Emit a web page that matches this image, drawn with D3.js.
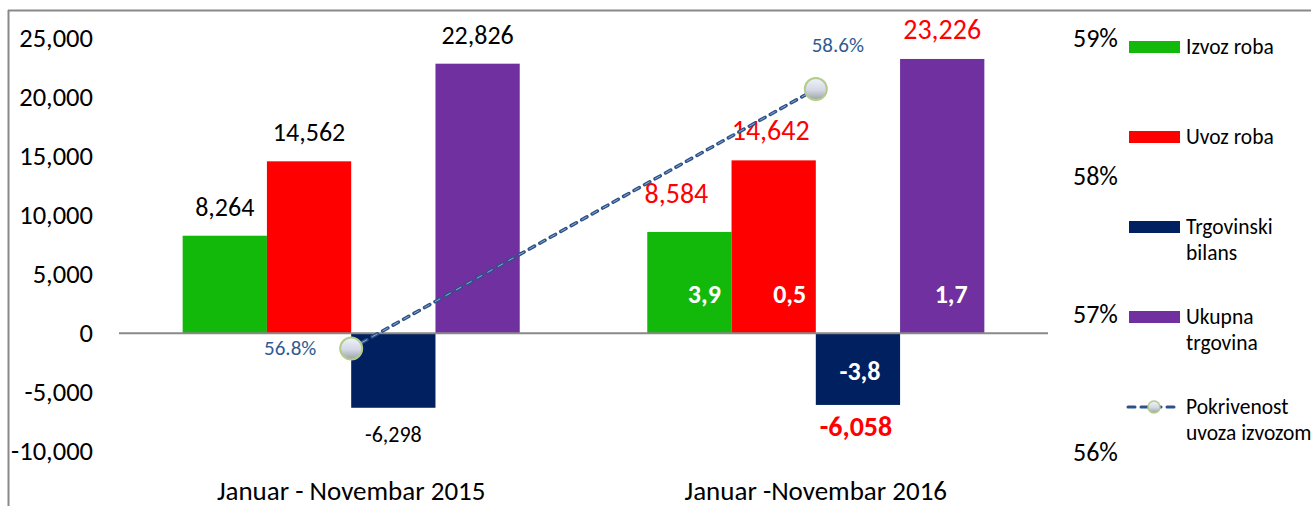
<!DOCTYPE html>
<html>
<head>
 <meta charset="UTF-8">
 <title>Robna razmjena</title>
 <script src="https://d3js.org/d3.v7.min.js"></script>
 <style>
  body { margin: 0; background: #fff; }
  text { font-family: Calibri, Carlito, "Open Sans", sans-serif; }
 </style>
</head>
<body>
<script type="text/javascript">
// podaci
var categories = ["Januar - Novembar 2015", "Januar -Novembar 2016"];
var seriesNames = ["Izvoz roba", "Uvoz roba", "Trgovinski bilans", "Ukupna trgovina"];
var izvoz = [8264, 8584];
var uvoz = [14562, 14642];
var bilans = [-6298, -6058];
var ukupno = [22826, 23226];
var pokrivenost = [56.75, 58.63];
var pokrivenostLabels = ["56.8%", "58.6%"];
var rast2016 = ["3,9", "0,5", "-3,8", "1,7"];
var leftTicks = [-10000, -5000, 0, 5000, 10000, 15000, 20000, 25000];
var rightTicks = [56, 57, 58, 59];
var colors = ["#12b90b", "#ff0000", "#002060", "#7030a0"];
var lineColor = "#2c5289";

var fmt = function (v) { return d3.format(",")(v).replace("\u2212", "-"); };

var width = 1311, height = 506;
var svg = d3.select("body").append("svg")
    .attr("width", width)
    .attr("height", height);

var defs = svg.append("defs");
var grad = defs.append("linearGradient").attr("id", "dot")
    .attr("x1", 0).attr("y1", 0).attr("x2", 0).attr("y2", 1);
grad.append("stop").attr("offset", "0%").attr("stop-color", "#f0f3fa");
grad.append("stop").attr("offset", "55%").attr("stop-color", "#d3d8e4");
grad.append("stop").attr("offset", "100%").attr("stop-color", "#9c9fa6");

// okvir
svg.append("line").attr("x1", 8).attr("x2", width).attr("y1", 10.5).attr("y2", 10.5)
    .attr("stroke", "#898989").attr("stroke-width", 2);
svg.append("line").attr("x1", 8.5).attr("x2", 8.5).attr("y1", 10).attr("y2", height)
    .attr("stroke", "#898989").attr("stroke-width", 2);

var y = d3.scaleLinear().domain([-10000, 25000]).range([451.5, 38]);
var yR = d3.scaleLinear().domain([56, 59]).range([452, 38]);
var x0 = d3.scaleBand().domain(categories).range([119, 1048])
    .paddingInner(0.2745).paddingOuter(0.137);
var x1 = d3.scaleBand().domain(seriesNames).range([0, x0.bandwidth()]);

var table = categories.map(function (c, i) {
  return [izvoz[i], uvoz[i], bilans[i], ukupno[i]].map(function (v, j) {
    return { cat: c, ci: i, name: seriesNames[j], si: j, value: v };
  });
});

// osa lijevo
var axL = svg.append("g").attr("transform", "translate(96,0)")
    .call(d3.axisLeft(y).tickValues(leftTicks).tickSize(0).tickPadding(3).tickFormat(fmt));
axL.select(".domain").remove();
axL.selectAll("text").attr("font-size", 26.5).attr("fill", "#000")
    .style("font-family", 'Calibri, Carlito, "Open Sans", sans-serif');

// osa desno
var axR = svg.append("g").attr("transform", "translate(1070,0)")
    .call(d3.axisRight(yR).tickValues(rightTicks).tickSize(0).tickPadding(3).tickFormat(function (d) { return d + "%"; }));
axR.select(".domain").remove();
axR.selectAll("text").attr("font-size", 26).attr("fill", "#000")
    .style("font-family", 'Calibri, Carlito, "Open Sans", sans-serif');

// stubici
var groups = svg.selectAll("g.grp")
    .data(table)
    .enter()
    .append("g")
    .attr("class", "grp")
    .attr("transform", function (d, i) { return "translate(" + x0(categories[i]) + ",0)"; });

groups.selectAll("rect")
    .data(function (d) { return d; })
    .enter()
    .append("rect")
    .attr("x", function (d) { return x1(d.name); })
    .attr("width", x1.bandwidth())
    .attr("y", function (d) { return y(Math.max(0, d.value)); })
    .attr("height", function (d) { return Math.abs(y(d.value) - y(0)); })
    .attr("fill", function (d) { return colors[d.si]; });

// nulta linija
svg.append("line").attr("x1", 119).attr("x2", 1048).attr("y1", y(0)).attr("y2", y(0))
    .attr("stroke", "#898989").attr("stroke-width", 2);

// vrijednosti
var nudge = { "1-0": [-13, -9], "1-1": [-3, 0], "1-2": [-2, -3] };
groups.selectAll("text.val")
    .data(function (d) { return d; })
    .enter()
    .append("text")
    .attr("class", "val")
    .attr("text-anchor", "middle")
    .attr("x", function (d) {
      var n = nudge[d.ci + "-" + d.si] || [0, 0];
      return x1(d.name) + x1.bandwidth() / 2 + n[0];
    })
    .attr("y", function (d) {
      var n = nudge[d.ci + "-" + d.si] || [0, 0];
      return (d.value >= 0 ? y(d.value) - 20 : y(d.value) + 34) + n[1];
    })
    .attr("font-size", function (d) { return d.ci == 0 ? (d.value < 0 ? 22 : 26) : 28; })
    .attr("font-weight", function (d) { return d.ci == 1 && d.value < 0 ? "bold" : "normal"; })
    .attr("fill", function (d) { return d.ci == 0 ? "#000" : "#ff0000"; })
    .text(function (d) { return fmt(d.value); });

// stope rasta 2016
var rastDx = [15, 16, 2, 9];
groups.filter(function (d, i) { return i == 1; })
    .selectAll("text.rast")
    .data(function (d) { return d; })
    .enter()
    .append("text")
    .attr("class", "rast")
    .attr("text-anchor", "middle")
    .attr("x", function (d) { return x1(d.name) + x1.bandwidth() / 2 + rastDx[d.si]; })
    .attr("y", function (d) { return d.value >= 0 ? y(0) - 30 : y(0) + 47; })
    .attr("font-size", 26)
    .attr("font-weight", "bold")
    .attr("fill", "#fff")
    .text(function (d) { return rast2016[d.si]; });

// pokrivenost
var pts = categories.map(function (c, i) {
  return [x0(c) + x0.bandwidth() / 2, yR(pokrivenost[i])];
});
svg.append("path")
    .attr("d", d3.line()(pts))
    .attr("fill", "none")
    .attr("stroke", lineColor)
    .attr("stroke-width", 3.5)
    .attr("stroke-linecap", "round")
    .attr("stroke-dasharray", "6,6");
svg.append("path")
    .attr("d", d3.line()(pts))
    .attr("fill", "none")
    .attr("stroke", "#a9bedb")
    .attr("stroke-width", 0.8)
    .attr("stroke-dasharray", "6,6");
svg.selectAll("circle.pt")
    .data(pts)
    .enter()
    .append("circle")
    .attr("class", "pt")
    .attr("cx", function (d) { return d[0]; })
    .attr("cy", function (d) { return d[1]; })
    .attr("r", 11)
    .attr("fill", "url(#dot)")
    .attr("stroke", "#b4cc8b")
    .attr("stroke-width", 2);

var pLabelOff = [[-61, 6], [22, -37]];
svg.selectAll("text.pok")
    .data(pts)
    .enter()
    .append("text")
    .attr("class", "pok")
    .attr("text-anchor", "middle")
    .attr("x", function (d, i) { return d[0] + pLabelOff[i][0]; })
    .attr("y", function (d, i) { return d[1] + pLabelOff[i][1]; })
    .attr("font-size", 21)
    .attr("fill", "#2f5b93")
    .text(function (d, i) { return pokrivenostLabels[i]; });

// kategorije
svg.selectAll("text.cat")
    .data(categories)
    .enter()
    .append("text")
    .attr("class", "cat")
    .attr("text-anchor", "middle")
    .attr("x", function (d) { return x0(d) + x0.bandwidth() / 2; })
    .attr("y", 500)
    .attr("font-size", 27)
    .attr("fill", "#000")
    .text(function (d) { return d; });

// legenda
var legendItems = [
  { lines: ["Izvoz roba"], color: colors[0] },
  { lines: ["Uvoz roba"], color: colors[1] },
  { lines: ["Trgovinski", "bilans"], color: colors[2] },
  { lines: ["Ukupna", "trgovina"], color: colors[3] },
  { lines: ["Pokrivenost", "uvoza izvozom"], color: null }
];
var lg = svg.selectAll("g.leg")
    .data(legendItems)
    .enter()
    .append("g")
    .attr("class", "leg")
    .attr("transform", function (d, i) { return "translate(1129," + (47 + i * 90) + ")"; });

lg.filter(function (d) { return d.color; })
    .append("rect")
    .attr("x", 0).attr("y", -6).attr("width", 51).attr("height", 12)
    .attr("fill", function (d) { return d.color; });

var lgLine = lg.filter(function (d) { return !d.color; });
lgLine.append("line")
    .attr("x1", -1).attr("x2", 48).attr("y1", 0).attr("y2", 0)
    .attr("stroke", lineColor).attr("stroke-width", 3).attr("stroke-linecap", "round")
    .attr("stroke-dasharray", "7,6");
lgLine.append("circle")
    .attr("cx", 25).attr("cy", 0).attr("r", 6)
    .attr("fill", "url(#dot)").attr("stroke", "#b4cc8b").attr("stroke-width", 1.5);

lg.append("text")
    .attr("x", 57)
    .attr("font-size", 21.5)
    .attr("fill", "#000")
    .selectAll("tspan")
    .data(function (d) { return d.lines; })
    .enter()
    .append("tspan")
    .attr("x", 57)
    .attr("y", function (d, i) { return 7 + i * 25.5; })
    .text(function (d) { return d; });
</script>
</body>
</html>
